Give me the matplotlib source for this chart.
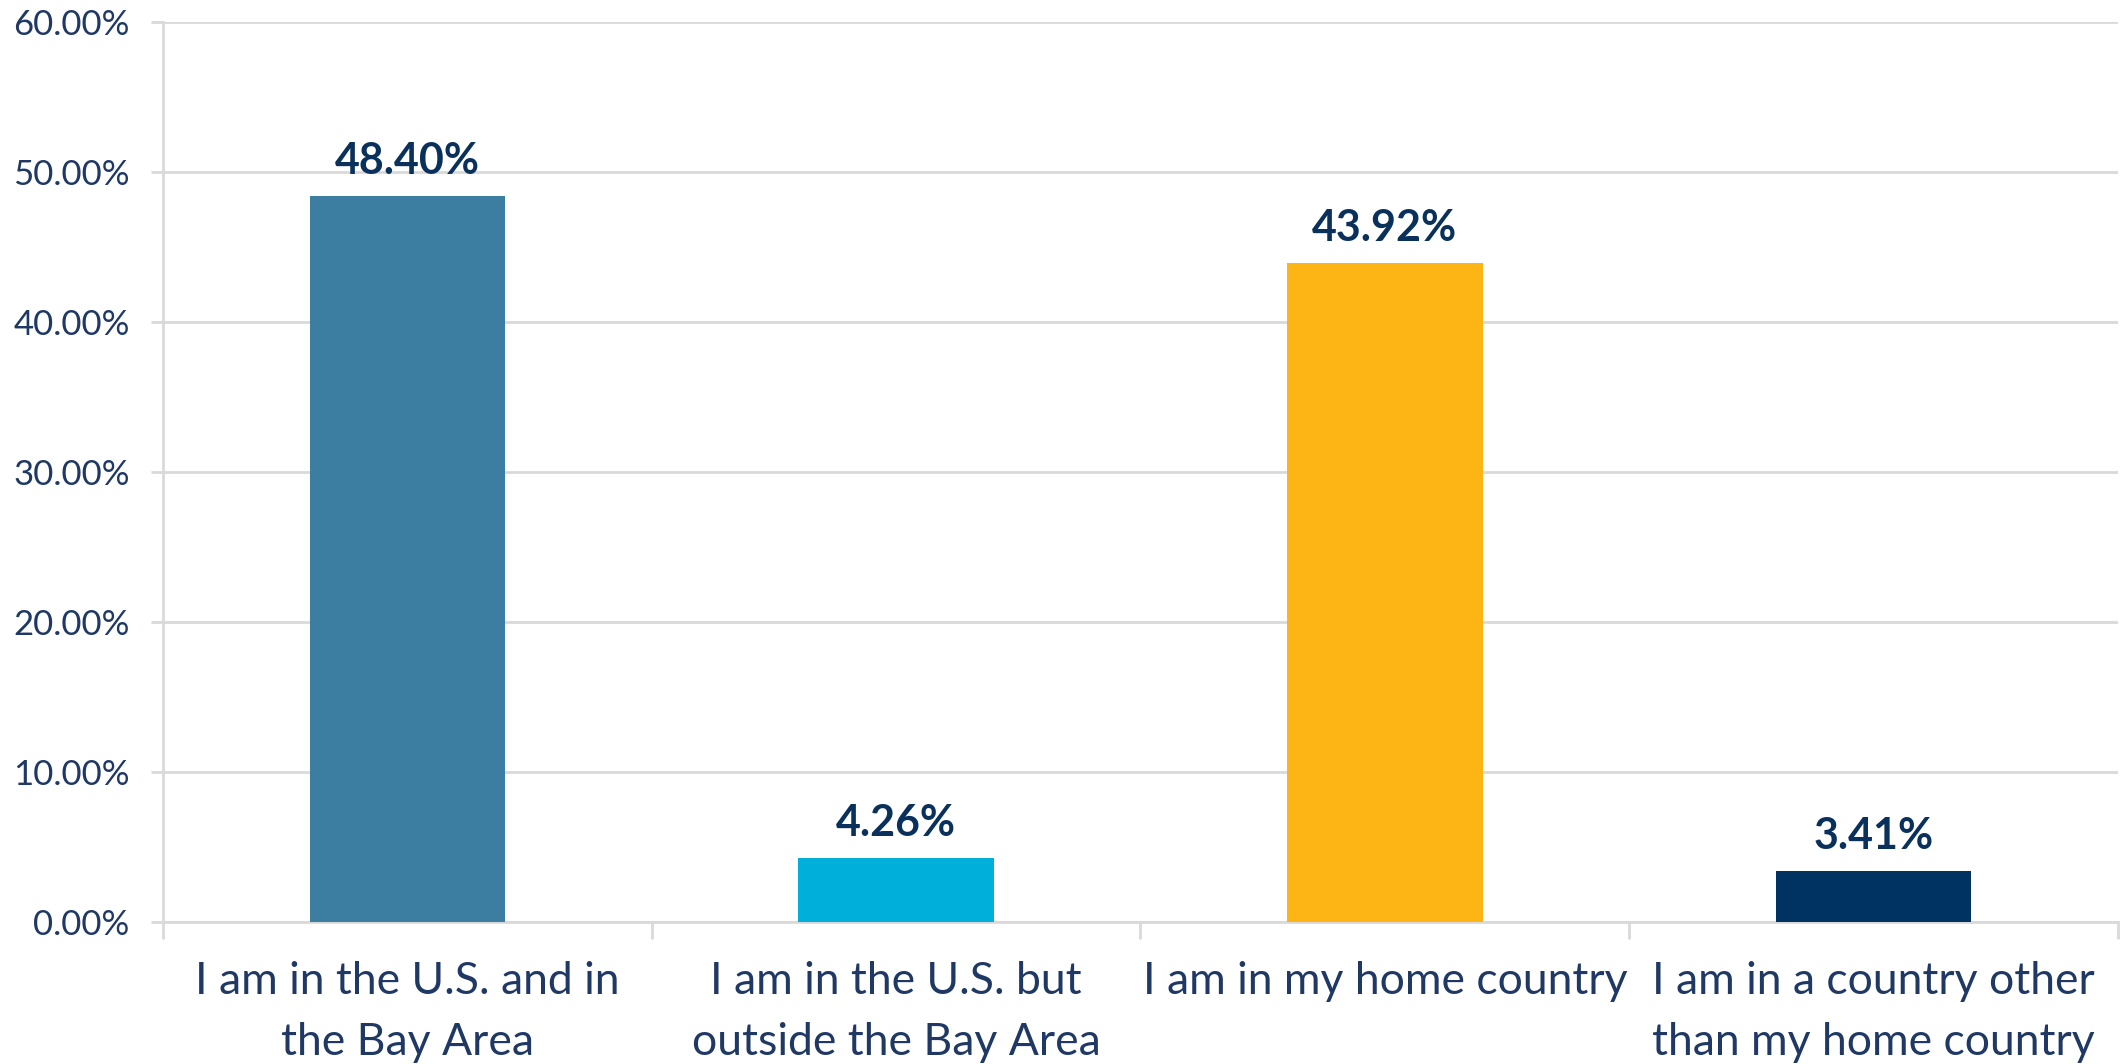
import matplotlib
matplotlib.use("Agg")
import matplotlib.pyplot as plt
from matplotlib.ticker import FuncFormatter

# datos del grafico
categorias = [
    "I am in the U.S. and in\nthe Bay Area",
    "I am in the U.S. but\noutside the Bay Area",
    "I am in my home country",
    "I am in a country other\nthan my home country",
]
valores = [48.40, 4.26, 43.92, 3.41]
colores = ["#3B7EA1", "#00B0DA", "#FDB515", "#003262"]
ticks_y = [0, 10, 20, 30, 40, 50, 60]

COLOR_TEXTO = "#1F3864"
COLOR_ETIQUETA = "#0A315C"
COLOR_GRID = "#D9D9D9"

plt.rcParams["font.family"] = ["Lato", "DejaVu Sans"]

fig = plt.figure(figsize=(21.26, 10.64), dpi=100)
ax = fig.add_axes([0.0767, 0.1335, 0.9195, 0.8458])

x = list(range(len(categorias)))
barras = ax.bar(x, valores, width=0.4, color=colores, zorder=3)

for b, v in zip(barras, valores):
    ax.annotate(f"{v:.2f}%", (b.get_x() + b.get_width() / 2, v),
                xytext=(0, 11), textcoords="offset points",
                ha="center", va="bottom", fontsize=31, fontweight="bold",
                color=COLOR_ETIQUETA)

ax.set_xlim(-0.5, len(categorias) - 0.5)
ax.set_ylim(0, 60)
ax.set_yticks(ticks_y)
ax.yaxis.set_major_formatter(FuncFormatter(lambda v, p: f"{v:.2f}%"))
ax.yaxis.grid(True, color=COLOR_GRID, linewidth=2, zorder=0)
ax.tick_params(axis="y", length=9, width=2, color=COLOR_GRID,
               labelsize=25, labelcolor=COLOR_TEXTO, pad=15)

# marcas entre categorias, etiquetas centradas
ax.set_xticks([i - 0.5 for i in range(len(categorias) + 1)])
ax.set_xticklabels([])
ax.set_xticks(x, minor=True)
ax.set_xticklabels(categorias, minor=True, fontsize=32, color=COLOR_TEXTO,
                   linespacing=1.6)
ax.tick_params(axis="x", which="major", length=12, width=2, color=COLOR_GRID)
ax.tick_params(axis="x", which="minor", length=0, pad=28)

for lado in ["top", "right"]:
    ax.spines[lado].set_visible(False)
for lado in ["left", "bottom"]:
    ax.spines[lado].set_color(COLOR_GRID)
    ax.spines[lado].set_linewidth(2)

plt.savefig("out.png", dpi=100)
plt.close()
